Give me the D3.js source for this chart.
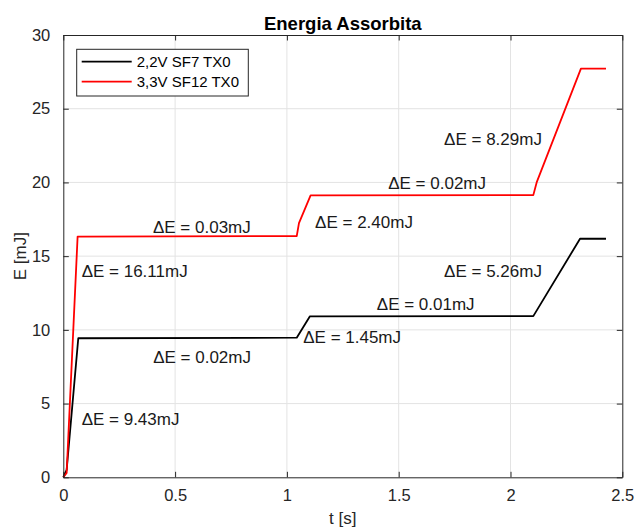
<!DOCTYPE html>
<html>
<head>
<meta charset="utf-8">
<script src="https://cdn.jsdelivr.net/npm/d3@7"></script>
<style>
  html, body { margin: 0; padding: 0; background: #fff; }
  svg { display: block; font-family: "Liberation Sans", Arial, Helvetica, sans-serif; }
</style>
</head>
<body>
<div id="chart"></div>
<script>
// ---- Data ----
const seriesNames = ["2,2V SF7 TX0", "3,3V SF12 TX0"];
const seriesColors = ["#000000", "#ff0000"];

const tBlack = [0, 0.015, 0.067, 1.044, 1.103, 2.102, 2.311, 2.427];
const eBlack = [0, 0.5, 9.43, 9.47, 10.92, 10.93, 16.18, 16.18];

const tRed = [0, 0.015, 0.064, 1.044, 1.054, 1.106, 2.102, 2.117, 2.315, 2.427];
const eRed = [0, 0.3, 16.33, 16.36, 17.24, 19.12, 19.14, 20.0, 27.72, 27.72];

const xTicks = [0, 0.5, 1, 1.5, 2, 2.5];
const yTicks = [0, 5, 10, 15, 20, 25, 30];

const annoText = ["ΔE = 16.11mJ", "ΔE = 9.43mJ", "ΔE = 0.03mJ", "ΔE = 0.02mJ", "ΔE = 2.40mJ",
                  "ΔE = 1.45mJ", "ΔE = 0.02mJ", "ΔE = 0.01mJ", "ΔE = 8.29mJ", "ΔE = 5.26mJ"];
const annoT = [0.082, 0.082, 0.401, 0.402, 1.126, 1.073, 1.453, 1.402, 1.703, 1.703];
const annoE = [13.6, 3.55, 16.58, 7.74, 16.9, 9.10, 19.55, 11.36, 22.56, 13.58];

const titleText = "Energia Assorbita";
const xLabel = "t [s]";
const yLabel = "E [mJ]";

// ---- Layout ----
const W = 635, H = 529;
const m = { left: 63.3, right: 635 - 622.3, top: 35, bottom: 529 - 477.3 };
const axisColor = "#262626";
const gridColor = "#e3e3e3";

const svg = d3.select("#chart").append("svg").attr("width", W).attr("height", H);

const x = d3.scaleLinear().domain([0, 2.5]).range([m.left, W - m.right]);
const y = d3.scaleLinear().domain([0, 30]).range([H - m.bottom, m.top]);

// grid
const g = svg.append("g");
g.selectAll("line.gx").data(xTicks.slice(1, -1)).enter().append("line")
  .attr("x1", d => x(d)).attr("x2", d => x(d))
  .attr("y1", y(0)).attr("y2", y(30))
  .attr("stroke", gridColor).attr("stroke-width", 1);
g.selectAll("line.gy").data(yTicks.slice(1, -1)).enter().append("line")
  .attr("y1", d => y(d)).attr("y2", d => y(d))
  .attr("x1", x(0)).attr("x2", x(2.5))
  .attr("stroke", gridColor).attr("stroke-width", 1);

// lines
const lineGen = d3.line().x(d => x(d[0])).y(d => y(d[1]));
const blackData = tBlack.map((t, i) => [t, eBlack[i]]);
const redData = tRed.map((t, i) => [t, eRed[i]]);
svg.append("path").datum(blackData).attr("d", lineGen)
  .attr("fill", "none").attr("stroke", seriesColors[0]).attr("stroke-width", 1.8).attr("stroke-linejoin", "round");
svg.append("path").datum(redData).attr("d", lineGen)
  .attr("fill", "none").attr("stroke", seriesColors[1]).attr("stroke-width", 1.8).attr("stroke-linejoin", "round");

// axes (inward ticks, box)
const tickLen = 5.5;
const fmt = d => String(d);
const xAxisB = d3.axisBottom(x).tickValues(xTicks).tickSizeInner(-tickLen).tickSizeOuter(0).tickPadding(12).tickFormat(fmt);
const xAxisT = d3.axisTop(x).tickValues(xTicks).tickSizeInner(-tickLen).tickSizeOuter(0).tickFormat("");
const yAxisL = d3.axisLeft(y).tickValues(yTicks).tickSizeInner(-tickLen).tickSizeOuter(0).tickPadding(13).tickFormat(fmt);
const yAxisR = d3.axisRight(y).tickValues(yTicks).tickSizeInner(-tickLen).tickSizeOuter(0).tickFormat("");

function style(sel) {
  sel.select(".domain").attr("stroke", axisColor).attr("stroke-width", 1);
  sel.selectAll(".tick line").attr("stroke", axisColor).attr("stroke-width", 1);
  sel.selectAll(".tick text").attr("fill", axisColor).style("font-size", "16.5px")
     .style("font-family", "'Liberation Sans', Arial, sans-serif");
}
svg.append("g").attr("transform", `translate(0,${y(0)})`).call(xAxisB).call(style);
svg.append("g").attr("transform", `translate(0,${y(30)})`).call(xAxisT).call(style);
svg.append("g").attr("transform", `translate(${x(0)},0)`).call(yAxisL).call(style);
svg.append("g").attr("transform", `translate(${x(2.5)},0)`).call(yAxisR).call(style);

// title & labels
svg.append("text").attr("x", (x(0) + x(2.5)) / 2).attr("y", 30)
  .attr("text-anchor", "middle").style("font-weight", "bold").style("font-size", "18.5px")
  .attr("fill", "#000").text(titleText);
svg.append("text").attr("x", (x(0) + x(2.5)) / 2).attr("y", 524)
  .attr("text-anchor", "middle").style("font-size", "17px").attr("fill", axisColor).text(xLabel);
svg.append("text").attr("transform", `translate(25.5,${(y(0) + y(30)) / 2}) rotate(-90)`)
  .attr("text-anchor", "middle").style("font-size", "17px").attr("fill", axisColor).text(yLabel);

// annotations
svg.selectAll("text.anno").data(annoText).enter().append("text")
  .attr("class", "anno")
  .attr("x", (d, i) => x(annoT[i])).attr("y", (d, i) => y(annoE[i]))
  .style("font-size", "17px").attr("fill", "#1a1a1a").text(d => d);

// legend
const lg = svg.append("g");
lg.append("rect").attr("x", 76.7).attr("y", 49.3).attr("width", 171.6).attr("height", 46.7)
  .attr("fill", "#fff").attr("stroke", axisColor).attr("stroke-width", 1);
seriesNames.forEach((name, i) => {
  const ly = 61.7 + i * 20;
  lg.append("line").attr("x1", 81.7).attr("x2", 131.7).attr("y1", ly).attr("y2", ly)
    .attr("stroke", seriesColors[i]).attr("stroke-width", 1.8);
  lg.append("text").attr("x", 136.7).attr("y", ly).attr("dy", "0.36em")
    .style("font-size", "15px").attr("fill", "#000").text(name);
});
</script>
</body>
</html>
